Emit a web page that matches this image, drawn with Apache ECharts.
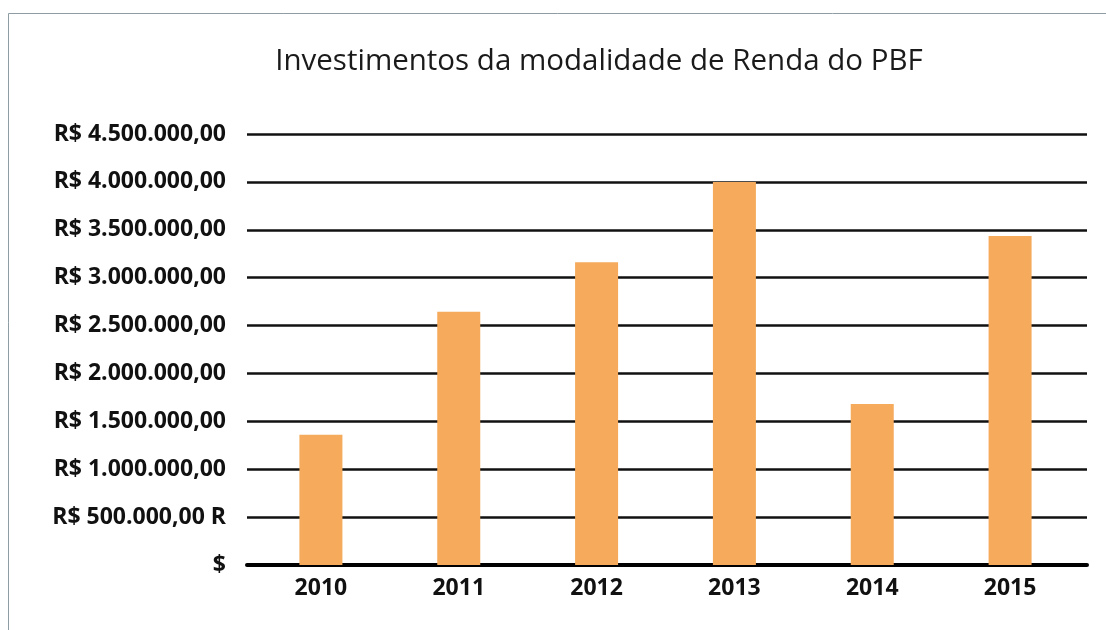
<!DOCTYPE html>
<html>
<head>
<meta charset="utf-8">
<script src="https://cdn.jsdelivr.net/npm/echarts@6/dist/echarts.min.js"></script>
<style>
  html, body { margin: 0; padding: 0; background: #fff; }
  #chart { width: 1106px; height: 630px; }
</style>
</head>
<body>
<div id="chart"></div>
<script>
// dados
const years = ['2010', '2011', '2012', '2013', '2014', '2015']
const renda = [1360000, 2645000, 3160000, 4000000, 1680000, 3435000]
const yTickLabels = [
  '$', 'R$ 500.000,00 R', 'R$ 1.000.000,00', 'R$ 1.500.000,00', 'R$ 2.000.000,00',
  'R$ 2.500.000,00', 'R$ 3.000.000,00', 'R$ 3.500.000,00', 'R$ 4.000.000,00', 'R$ 4.500.000,00'
]

const chart = echarts.init(document.getElementById('chart'))

const labelFont = '"Open Sans", "Noto Sans", sans-serif'
const labelStyle = {
  fontFamily: labelFont,
  fontWeight: 'bold',
  fontSize: 23,
  color: '#111'
}

chart.setOption({
  backgroundColor: '#fff',
  animation: false,
  title: {
    text: 'Investimentos da modalidade de Renda do PBF',
    left: 594,
    textAlign: 'center',
    top: 42,
    textStyle: {
      fontFamily: labelFont,
      fontSize: 29.5,
      fontWeight: 'normal',
      color: '#1a1a1a'
    }
  },
  graphic: [
    {
      type: 'rect',
      shape: { x: 8.5, y: 13.5, width: 1120, height: 640 },
      style: { fill: 'none', stroke: '#8e9ca3', lineWidth: 1 },
      silent: true
    }
  ],
  // grade 0: linhas e rótulos do eixo Y; grade 1: barras
  grid: [
    { left: 247, right: 19, top: 134, bottom: 65 },
    { left: 252, right: 27, top: 134, bottom: 65 }
  ],
  xAxis: [
    {
      type: 'category',
      gridIndex: 0,
      data: years,
      axisTick: { show: false },
      axisLabel: { show: false },
      axisLine: { lineStyle: { color: '#000', width: 4 } }
    },
    {
      type: 'category',
      gridIndex: 1,
      data: years,
      axisTick: { show: false },
      axisLine: { show: false },
      axisLabel: Object.assign({ margin: 12 }, labelStyle)
    }
  ],
  yAxis: [
    {
      type: 'value',
      gridIndex: 0,
      min: 0,
      max: 4500000,
      interval: 500000,
      axisLine: { show: false },
      axisTick: { show: false },
      splitLine: { lineStyle: { color: '#111', width: 2.5 } },
      axisLabel: Object.assign({
        margin: 21,
        formatter: (v) => yTickLabels[Math.round(v / 500000)]
      }, labelStyle)
    },
    {
      type: 'value',
      gridIndex: 1,
      min: 0,
      max: 4500000,
      interval: 500000,
      show: false
    }
  ],
  series: [
    {
      name: 'Renda',
      type: 'bar',
      xAxisIndex: 1,
      yAxisIndex: 1,
      data: renda,
      barWidth: 43,
      z: 3,
      itemStyle: { color: '#F6AA5C' }
    }
  ]
})
</script>
</body>
</html>
